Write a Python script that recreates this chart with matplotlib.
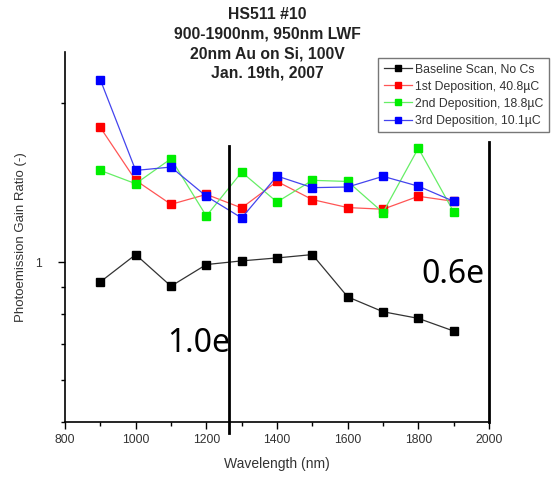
import numpy as np
import matplotlib
matplotlib.use("Agg")
import matplotlib.pyplot as plt
import matplotlib.transforms as mtransforms
from matplotlib.ticker import FixedLocator, NullFormatter

plt.rcParams['font.family'] = ['Liberation Sans', 'DejaVu Sans']

wavelength = [900, 1000, 1100, 1200, 1300, 1400, 1500, 1600, 1700, 1800, 1900]
baseline = [0.919, 1.035, 0.902, 0.991, 1.007, 1.020, 1.035, 0.861, 0.807, 0.784, 0.742]
dep1 = [1.80, 1.43, 1.288, 1.345, 1.268, 1.423, 1.315, 1.270, 1.261, 1.334, 1.305]
dep2 = [1.493, 1.409, 1.571, 1.224, 1.482, 1.301, 1.430, 1.423, 1.243, 1.645, 1.246]
dep3 = [2.215, 1.493, 1.515, 1.334, 1.214, 1.457, 1.385, 1.389, 1.455, 1.394, 1.305]

labels = ["Baseline Scan, No Cs", "1st Deposition, 40.8\u00b5C",
          "2nd Deposition, 18.8\u00b5C", "3rd Deposition, 10.1\u00b5C"]
colors = ["black", "#ff0000", "#00ee00", "#0000ff"]
line_colors = ["#333333", "#ff5555", "#66ee66", "#4444ee"]

fig = plt.figure(figsize=(5.53, 4.78), dpi=100)
ax = fig.add_axes([65/553, 1-421.7/478, (489-65)/553, (421.7-52)/478])

for ys, c, lc, lab in zip([baseline, dep1, dep2, dep3], colors, line_colors, labels):
    ax.plot(wavelength, ys, color=lc, lw=0.9, marker='s', ms=5.3,
            mfc=c, mec=c, label=lab)

ax.set_yscale('log')
ax.set_xlim(800, 2000)
ax.set_ylim(0.5, 2.5)
ax.set_xticks(np.arange(800, 2001, 200))
ax.set_xticks(np.arange(900, 2000, 200), minor=True)
ax.yaxis.set_major_locator(FixedLocator([1]))
ax.yaxis.set_minor_locator(FixedLocator([0.5, 0.6, 0.7, 0.8, 0.9, 2]))
ax.yaxis.set_minor_formatter(NullFormatter())
ax.set_yticklabels(["1"])
ax.tick_params(which='major', direction='out', length=5, width=1, labelsize=8.8,
               labelcolor='#333333')
ax.tick_params(which='minor', direction='out', length=3, width=1)
ax.tick_params(axis='y', which='major', pad=12)
for s in ['top', 'right']:
    ax.spines[s].set_visible(False)
for s in ['left', 'bottom']:
    ax.spines[s].set_linewidth(1.2)

ax.set_xlabel("Wavelength (nm)", fontsize=10, color='#333333', labelpad=8)
ax.set_ylabel("Photoemission Gain Ratio (-)", fontsize=9.5, color='#333333')
ax.yaxis.set_label_coords(-0.09, 0.5)

fig.text(0.483, 1-7/478, "HS511 #10\n900-1900nm, 950nm LWF\n20nm Au on Si, 100V\nJan. 19th, 2007",
         ha='center', va='top', fontsize=11.3, fontweight='bold', linespacing=1.38, color='#222222')

leg = fig.legend(loc='upper left', bbox_to_anchor=(378/553, 1-58/478), fontsize=8.8,
                 frameon=True, fancybox=False, edgecolor='#777777', framealpha=1,
                 handlelength=2.3, handletextpad=0.3, borderpad=0.45, labelspacing=0.42,
                 borderaxespad=0, markerscale=0.85)
leg.get_frame().set_linewidth(1.0)
for t in leg.get_texts():
    t.set_color('#333333')

# annotation lines and labels
trans = mtransforms.blended_transform_factory(ax.transData, ax.transAxes)
ax.plot([1265, 1265], [-0.031, 0.746], color='black', lw=2, transform=trans, clip_on=False)
ax.plot([2000, 2000], [0.0, 0.757], color='black', lw=2, transform=trans, clip_on=False)
ax.text(1268, 0.1885, "1.0e", transform=trans, ha='right', va='baseline',
        fontsize=23, family='Noto Sans', color='black')
ax.text(1988, 0.375, "0.6e", transform=trans, ha='right', va='baseline',
        fontsize=23, family='Noto Sans', color='black')

fig.savefig("out.png", dpi=100)
